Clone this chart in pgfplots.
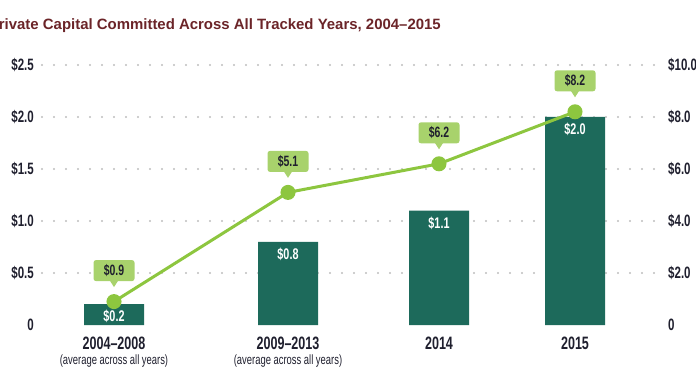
\documentclass[border=0pt]{standalone}
\usepackage{fontspec}
\setmainfont{Liberation Sans}
\newfontfamily\cond[FakeStretch=0.7]{Liberation Sans}
\usepackage{pgfplots}
\pgfplotsset{compat=1.18}
\usetikzlibrary{shapes.geometric}
\definecolor{barc}{HTML}{1D6A5B}
\definecolor{linec}{HTML}{8DC63F}
\definecolor{callc}{HTML}{A8D26C}
\definecolor{titlec}{HTML}{6B2428}
\definecolor{txt}{HTML}{1F1F2E}
\definecolor{gridc}{HTML}{BDBDBD}
\pgfplotsset{base/.style={scale only axis, width=620bp, height=260bp, xmin=42, xmax=662,
  at={(42bp,60bp)}, anchor=south west, axis line style={draw=none}, tick style={draw=none},
  major tick length=0pt, clip=false, ticklabel style={text=txt},
  /pgf/number format/assume math mode=true,
  yticklabel style={font=\cond\bfseries\fontsize{16.5}{16.5}\selectfont, inner sep=0pt}}}
\begin{document}
\begin{tikzpicture}[x=1bp,y=1bp]
\useasboundingbox (0,0) rectangle (696,385);
\node[anchor=base east, inner sep=0pt, text=titlec, font=\bfseries\fontsize{15}{15}\selectfont] at (441,356) {Private Capital Committed Across All Tracked Years, 2004–2015};
\begin{axis}[base, ymin=0, ymax=2.5,
  ytick={0.5,1,1.5,2,2.5}, yticklabels={\$0.5,\$1.0,\$1.5,\$2.0,\$2.5},
  extra y ticks={0}, extra y tick labels={0}, extra y tick style={grid=none},
  ymajorgrids, grid style={gridc, line width=2.2bp, line cap=round, dash pattern=on 0pt off 12bp},
  yticklabel style={anchor=east, xshift=-8bp},
  xtick={114,288,439,575},
  xticklabels={{2004–2008\\[2bp]{\cond\mdseries\fontsize{13.5}{13.5}\selectfont (average across all years)}},
               {2009–2013\\[2bp]{\cond\mdseries\fontsize{13.5}{13.5}\selectfont (average across all years)}},
               {2014},{2015}},
  xticklabel style={align=center, anchor=north, inner sep=0pt, yshift=-12bp, font=\cond\bfseries\fontsize{18}{13}\selectfont},
  ybar, bar width=60bp,
  nodes near coords={\$\pgfmathprintnumber[fixed,fixed zerofill,precision=1]{\pgfplotspointmeta}},
  nodes near coords style={anchor=north, inner sep=0pt, yshift=-6bp, text=white, font=\cond\bfseries\fontsize{15.5}{15.5}\selectfont},
]
\addplot[fill=barc, draw=none] coordinates {(114,0.2) (288,0.8) (439,1.1) (575,2.0)};
\end{axis}
\begin{axis}[base, ymin=0, ymax=10, xtick=\empty,
  ytick={0,2,4,6,8,10}, yticklabels={0,\$2.0,\$4.0,\$6.0,\$8.0,\$10.0},
  yticklabel pos=right, yticklabel style={anchor=west, xshift=6bp},
]
\addplot[color=linec, line width=3bp, mark=*, mark size=6bp, mark options={fill=linec, draw=none}]
  coordinates {(114,0.9) (288,5.1) (439,6.2) (575,8.2)};
\addplot[draw=none, mark=none, nodes near coords={},
  nodes near coords style={isosceles triangle, shape border rotate=-90, isosceles triangle stretches,
    fill=callc, minimum width=9bp, minimum height=7bp, inner sep=0pt, anchor=apex, yshift=14bp}]
  coordinates {(114,0.9) (288,5.1) (439,6.2) (575,8.2)};
\addplot[draw=none, mark=none,
  nodes near coords={\$\pgfmathprintnumber[fixed,fixed zerofill,precision=1]{\pgfplotspointmeta}},
  nodes near coords style={rectangle, fill=callc, rounded corners=2.5bp, anchor=center, yshift=31bp,
    minimum width=41bp, minimum height=21bp, inner sep=0pt,
    text=txt, font=\cond\bfseries\fontsize{15}{15}\selectfont}]
  coordinates {(114,0.9) (288,5.1) (439,6.2) (575,8.2)};
\end{axis}
\end{tikzpicture}
\end{document}
